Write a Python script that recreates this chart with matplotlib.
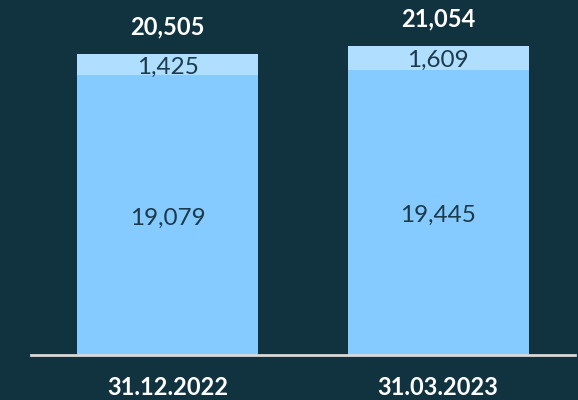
import matplotlib
matplotlib.use("Agg")
import matplotlib.pyplot as plt

categories = ["31.12.2022", "31.03.2023"]
base_values = [19079, 19445]
top_values = [1425, 1609]
totals = [20505, 21054]

bg = "#11323F"
fig = plt.figure(figsize=(5.78, 4.0), dpi=100, facecolor=bg)
ax = fig.add_axes([31/578, 45/400, 544/578, 355/400])
ax.set_facecolor(bg)

x = list(range(len(categories)))
w = 0.669
ax.bar(x, base_values, width=w, color="#85CBFF", zorder=2)
ax.bar(x, top_values, width=w, bottom=base_values, color="#B0DEFF", zorder=2)

font = "Lato"
px = 1 / 0.01468
for i in x:
    ax.text(i, base_values[i] / 2 - 3 * px, f"{base_values[i]:,}", ha="center", va="center",
            fontsize=17.5, color="#1B3A4A", family=font)
    ax.text(i, base_values[i] + top_values[i] / 2 - 3 * px, f"{top_values[i]:,}", ha="center", va="center",
            fontsize=17.5, color="#1B3A4A", family=font)
    ax.text(i, totals[i] + 27 * px, f"{totals[i]:,}", ha="center", va="center",
            fontsize=17, color="white", fontweight="bold", family=font)

ax.set_xlim(-0.505, 1.506)
ax.set_ylim(0, 355 * px)
for s in ["top", "right", "left"]:
    ax.spines[s].set_visible(False)
ax.spines["bottom"].set_color("#D9D9D9")
ax.spines["bottom"].set_linewidth(2)
ax.spines["bottom"].set_zorder(3)
ax.set_yticks([])
ax.set_xticks(x)
ax.set_xticklabels(categories, fontsize=17, fontweight="bold", color="white", family=font)
ax.tick_params(axis="x", length=0, pad=15)

fig.savefig("out.png", dpi=100, facecolor=bg)
